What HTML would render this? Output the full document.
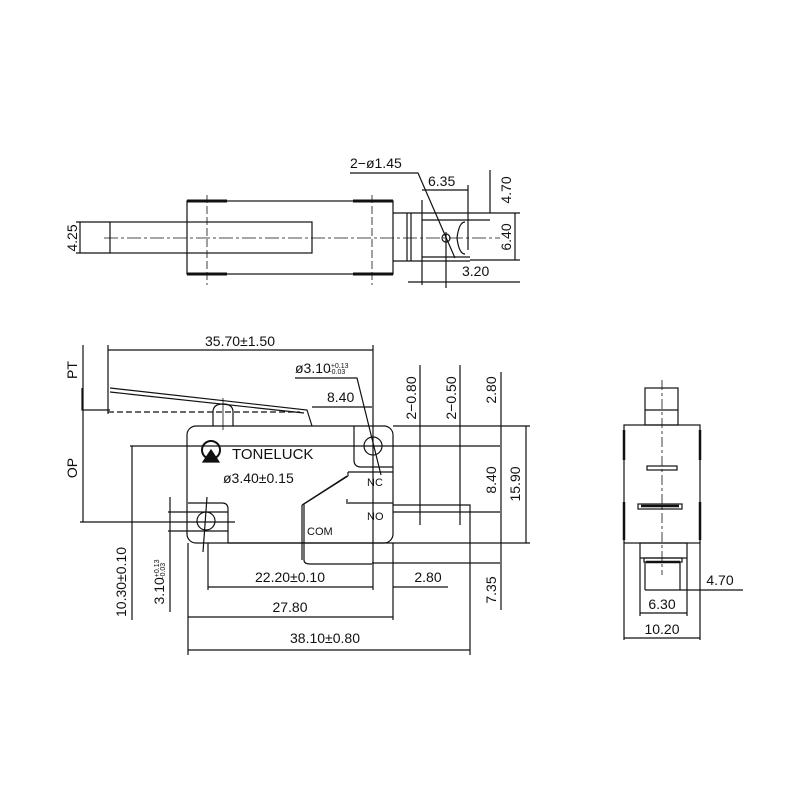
<!DOCTYPE html>
<html><head><meta charset="utf-8"><style>
html,body{margin:0;padding:0;background:#fff;}
svg{display:block}
text{font-family:"Liberation Sans",sans-serif;fill:#111;}
</style></head><body>
<svg width="800" height="800" viewBox="0 0 800 800" xmlns="http://www.w3.org/2000/svg">
<g stroke="#111" stroke-width="1.2" fill="none">
<!-- TOP VIEW -->
<rect x="187" y="201" width="206" height="73"/>
<path d="M187 201h40M353 201h40M187 274h40M353 274h40" stroke-width="3"/>
<rect x="110" y="222" width="202" height="31"/>
<line x1="104" y1="238" x2="500" y2="238" stroke-dasharray="14,3,3,3" stroke-width="0.8"/>
<line x1="207" y1="195" x2="207" y2="285" stroke-dasharray="8,3" stroke-width="0.8"/>
<line x1="372" y1="195" x2="372" y2="285" stroke-dasharray="8,3" stroke-width="0.8"/>
<path d="M393 213H490M393 261H470M407 213V261M411 213V261M422 220H490M422 257H470M422 200V285"/>
<path d="M465 222q-6 0-8 16q2 16 8 16"/>
<circle cx="446" cy="238" r="4"/>
<line x1="446" y1="232" x2="446" y2="288"/>
<path d="M350 173H418L455 258"/>
<line x1="422" y1="190" x2="468" y2="190"/>
<line x1="468" y1="185" x2="468" y2="250"/>
<line x1="490" y1="170" x2="490" y2="213"/>
<line x1="515" y1="213" x2="515" y2="260"/>
<line x1="490" y1="213" x2="520" y2="213"/>
<line x1="470" y1="260" x2="520" y2="260"/>
<line x1="408" y1="282" x2="520" y2="282"/>
<line x1="80" y1="222" x2="80" y2="253"/>
<line x1="76" y1="222" x2="110" y2="222"/>
<line x1="76" y1="253" x2="110" y2="253"/>

<!-- FRONT VIEW -->
<rect x="187" y="426" width="206" height="117" rx="9"/>
<path d="M354 426V460q0 7 7 7H393"/>
<circle cx="373" cy="446" r="9"/>
<path d="M188 503H222q6 0 6 6V543"/>
<circle cx="206" cy="521" r="9"/>
<circle cx="211" cy="450" r="9" stroke-width="2"/>
<path d="M203 462L211 450L219 462Z" fill="#111"/>
<path d="M110 388L307 410L312 426M110 392L304 413M82 388V410H110"/>
<line x1="108" y1="412" x2="300" y2="412" stroke-dasharray="6,3"/>
<path d="M213 426V412q0-8 10-8q10 0 10 8V426"/>
<line x1="223" y1="398" x2="223" y2="430" stroke-width="0.8"/>
<path d="M348 472H393M348 472V476M348 476L304 504V560q0 4 6 4H372M347 476L302 505M302 505V560"/>
<path d="M348 503H393M347 499v5M393 505H470V512H393"/>
<!-- dims front -->
<line x1="108" y1="350" x2="373" y2="350"/>
<line x1="108" y1="345" x2="108" y2="414"/>
<line x1="373" y1="345" x2="373" y2="590"/>
<path d="M295 378H357L381 475"/>
<line x1="312" y1="407" x2="372" y2="407"/>
<line x1="420" y1="365" x2="420" y2="525"/>
<line x1="460" y1="365" x2="460" y2="525"/>
<line x1="501" y1="372" x2="501" y2="610"/>
<line x1="83" y1="345" x2="83" y2="522"/>
<line x1="80" y1="522" x2="235" y2="522"/>
<line x1="130" y1="446" x2="500" y2="446"/>
<line x1="393" y1="426" x2="530" y2="426"/>
<line x1="470" y1="512" x2="500" y2="512"/>
<line x1="526" y1="426" x2="526" y2="543"/>
<line x1="228" y1="543" x2="530" y2="543"/>
<line x1="132" y1="446" x2="132" y2="620"/>
<line x1="170" y1="497" x2="170" y2="612"/>
<line x1="168" y1="512" x2="228" y2="512"/>
<line x1="168" y1="531" x2="228" y2="531"/>
<line x1="207" y1="497" x2="203" y2="552"/>
<line x1="208" y1="543" x2="208" y2="590"/>
<line x1="208" y1="587" x2="373" y2="587"/>
<line x1="393" y1="587" x2="448" y2="587"/>
<line x1="393" y1="543" x2="393" y2="620"/>
<line x1="372" y1="563" x2="500" y2="563"/>
<line x1="188" y1="617" x2="393" y2="617"/>
<line x1="188" y1="543" x2="188" y2="655"/>
<line x1="470" y1="512" x2="470" y2="655"/>
<line x1="188" y1="650" x2="470" y2="650"/>

<!-- SIDE VIEW -->
<rect x="645" y="388" width="33" height="37"/>
<line x1="645" y1="410" x2="678" y2="410"/>
<rect x="624" y="425" width="76" height="118"/>
<path d="M624 430V460M700 430V460M624 502V540M700 502V540" stroke-width="2.5"/>
<rect x="647" y="466" width="30" height="4"/>
<rect x="638" y="504" width="44" height="5"/>
<line x1="641" y1="506" x2="679" y2="506" stroke-width="2.5"/>
<rect x="640" y="543" width="47" height="15"/>
<rect x="644" y="558" width="38" height="4"/>
<line x1="646" y1="562" x2="680" y2="562" stroke-width="2.5"/>
<line x1="645" y1="562" x2="645" y2="590"/>
<line x1="680" y1="562" x2="680" y2="590"/>
<line x1="640" y1="558" x2="640" y2="616"/>
<line x1="687" y1="558" x2="687" y2="616"/>
<line x1="624" y1="543" x2="624" y2="640"/>
<line x1="700" y1="543" x2="700" y2="640"/>
<line x1="662" y1="380" x2="662" y2="575" stroke-dasharray="10,3,3,3" stroke-width="0.8"/>
<line x1="645" y1="590" x2="743" y2="590"/>
<line x1="640" y1="613" x2="687" y2="613"/>
<line x1="624" y1="638" x2="700" y2="638"/>
</g>

<g font-size="14">
<text x="350" y="168">2−ø1.45</text>
<text x="428" y="186">6.35</text>
<text x="462" y="276">3.20</text>
<text transform="translate(511,190) rotate(-90)" text-anchor="middle">4.70</text>
<text transform="translate(511,237) rotate(-90)" text-anchor="middle">6.40</text>
<text transform="translate(77,238) rotate(-90)" text-anchor="middle">4.25</text>

<text x="240" y="346" text-anchor="middle">35.70±1.50</text>
<text x="295" y="373">ø3.10<tspan font-size="7" dy="-5">+0.13</tspan><tspan font-size="7" dx="-21" dy="6">−0.03</tspan></text>
<text x="327" y="402">8.40</text>
<text transform="translate(416,398) rotate(-90)" text-anchor="middle">2−0.80</text>
<text transform="translate(456,398) rotate(-90)" text-anchor="middle">2−0.50</text>
<text transform="translate(496,390) rotate(-90)" text-anchor="middle">2.80</text>
<text transform="translate(496,480) rotate(-90)" text-anchor="middle">8.40</text>
<text transform="translate(520,484) rotate(-90)" text-anchor="middle">15.90</text>
<text transform="translate(77,370) rotate(-90)" text-anchor="middle">PT</text>
<text transform="translate(77,468) rotate(-90)" text-anchor="middle">OP</text>
<text x="232" y="459" font-size="15">TONELUCK</text>
<text x="223" y="483">ø3.40±0.15</text>
<text x="367" y="486" font-size="11">NC</text>
<text x="367" y="520" font-size="11">NO</text>
<text x="307" y="535" font-size="11">COM</text>
<text transform="translate(126,582) rotate(-90)" text-anchor="middle">10.30±0.10</text>
<text transform="translate(164,582) rotate(-90)" text-anchor="middle">3.10<tspan font-size="7" dy="-5">+0.13</tspan><tspan font-size="7" dx="-21" dy="6">−0.03</tspan></text>
<text x="290" y="582" text-anchor="middle">22.20±0.10</text>
<text x="428" y="582" text-anchor="middle">2.80</text>
<text transform="translate(496,590) rotate(-90)" text-anchor="middle">7.35</text>
<text x="290" y="612" text-anchor="middle">27.80</text>
<text x="325" y="643" text-anchor="middle">38.10±0.80</text>

<text x="720" y="585" text-anchor="middle">4.70</text>
<text x="662" y="609" text-anchor="middle">6.30</text>
<text x="662" y="634" text-anchor="middle">10.20</text>
</g>
</svg>
</body></html>
